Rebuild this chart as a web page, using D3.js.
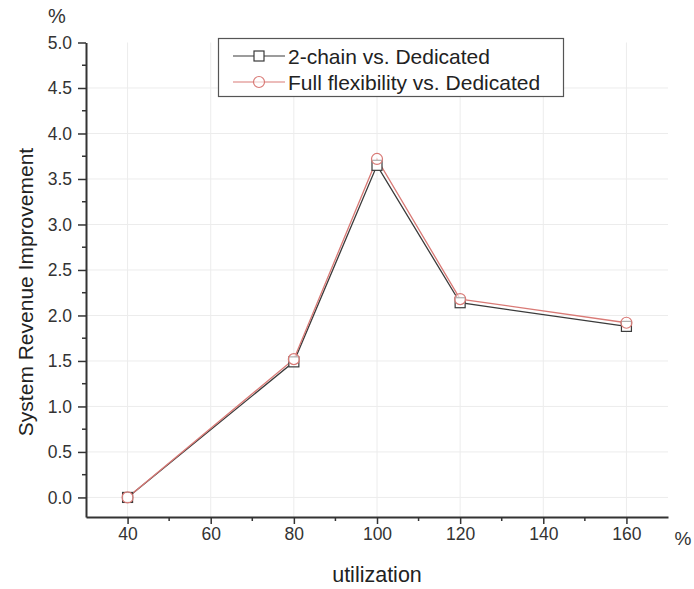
<!DOCTYPE html>
<html>
<head>
<meta charset="utf-8">
<script src="https://cdn.jsdelivr.net/npm/d3@7"></script>
<style>
  html, body { margin: 0; padding: 0; background: #fff; }
  svg { display: block; font-family: "Liberation Sans", Arial, sans-serif; }
</style>
</head>
<body>
<svg id="chart" width="694" height="589"></svg>
<script>
// Utilization levels (%) and revenue improvement (%) for each flexibility design
const utilization = [40, 80, 100, 120, 160];
const twoChain = [0, 1.49, 3.65, 2.14, 1.88];
const fullFlex = [0, 1.52, 3.72, 2.18, 1.92];
const seriesNames = ["2-chain vs. Dedicated", "Full flexibility vs. Dedicated"];
const xTicks = [40, 60, 80, 100, 120, 140, 160];
const yTicks = [0, 0.5, 1, 1.5, 2, 2.5, 3, 3.5, 4, 4.5, 5];

const svg = d3.select("#chart");
const axisColor = "#333";

const x = d3.scaleLinear().domain([30, 170]).range([86, 668]);
const y = d3.scaleLinear().domain([-0.215, 5]).range([517, 42.5]);

// light grid at the major ticks
const grid = svg.append("g").attr("stroke", "#ececec").attr("stroke-width", 1);
grid.selectAll("line.gx").data(xTicks).join("line")
  .attr("x1", d => x(d)).attr("x2", d => x(d))
  .attr("y1", y.range()[1]).attr("y2", y.range()[0]);
grid.selectAll("line.gy").data(yTicks.filter(d => d < 5)).join("line")
  .attr("x1", x.range()[0]).attr("x2", x.range()[1])
  .attr("y1", d => y(d)).attr("y2", d => y(d));

// minor ticks
const xMinor = d3.range(50, 170, 20);
const yMinor = d3.range(0.25, 5, 0.5);

const xAxisG = svg.append("g").attr("transform", `translate(0,${y.range()[0]})`)
  .call(d3.axisBottom(x).tickValues(xTicks).tickSize(7).tickSizeOuter(0).tickPadding(4));
xAxisG.append("g").selectAll("line").data(xMinor).join("line")
  .attr("x1", d => x(d)).attr("x2", d => x(d)).attr("y1", 0).attr("y2", 4)
  .attr("stroke", axisColor).attr("stroke-width", 1.5);

const yAxisG = svg.append("g").attr("transform", `translate(${x.range()[0]},0)`)
  .call(d3.axisLeft(y).tickValues(yTicks).tickFormat(d3.format(".1f")).tickSize(8).tickSizeOuter(0).tickPadding(6));
yAxisG.append("g").selectAll("line").data(yMinor).join("line")
  .attr("x1", 0).attr("x2", -4).attr("y1", d => y(d)).attr("y2", d => y(d))
  .attr("stroke", axisColor).attr("stroke-width", 1.5);

[xAxisG, yAxisG].forEach(g => {
  g.select(".domain").attr("stroke", axisColor).attr("stroke-width", 2);
  g.selectAll(".tick line").attr("stroke", axisColor).attr("stroke-width", 1.5);
  g.selectAll(".tick text").attr("fill", "#333").style("font-size", "17.5px")
    .style("font-family", "'Liberation Sans', Arial, sans-serif");
});

// unit and axis titles
svg.append("text").attr("x", 57).attr("y", 23).attr("text-anchor", "middle")
  .attr("fill", "#333").style("font-size", "20px").text("%");
svg.append("text").attr("x", 683).attr("y", 545).attr("text-anchor", "middle")
  .attr("fill", "#333").style("font-size", "19px").text("%");
svg.append("text").attr("x", 377).attr("y", 582).attr("text-anchor", "middle")
  .attr("fill", "#222").style("font-size", "21.5px").text("utilization");
svg.append("text").attr("transform", "translate(33,292) rotate(-90)").attr("text-anchor", "middle")
  .attr("fill", "#222").style("font-size", "21px").text("System Revenue Improvement");

// series
const series = [
  { name: seriesNames[0], values: twoChain, color: "#3a3a3a", shape: "square" },
  { name: seriesNames[1], values: fullFlex, color: "#d97a76", shape: "circle" }
];
const line = d3.line().x((d, i) => x(utilization[i])).y(d => y(d));

function drawMarker(g, shape, cx, cy, color) {
  if (shape === "square") {
    g.append("rect").attr("x", cx - 5).attr("y", cy - 5).attr("width", 10).attr("height", 10)
      .attr("fill", "#fff").attr("stroke", color).attr("stroke-width", 1.2);
  } else {
    g.append("circle").attr("cx", cx).attr("cy", cy).attr("r", 5.5)
      .attr("fill", "#fff").attr("fill-opacity", 0.6).attr("stroke", color).attr("stroke-width", 1.2);
  }
}

series.forEach(s => {
  svg.append("path").datum(s.values).attr("d", line)
    .attr("fill", "none").attr("stroke", s.color).attr("stroke-width", 1.3);
});
series.forEach(s => {
  const g = svg.append("g");
  s.values.forEach((v, i) => drawMarker(g, s.shape, x(utilization[i]), y(v), s.color));
});

// legend
const legend = svg.append("g");
legend.append("rect").attr("x", 218.5).attr("y", 38.5).attr("width", 345).attr("height", 58)
  .attr("fill", "#fff").attr("stroke", "#555").attr("stroke-width", 1.2);
series.forEach((s, i) => {
  const ly = 56 + i * 26;
  const g = legend.append("g");
  g.append("line").attr("x1", 233).attr("x2", 285).attr("y1", ly).attr("y2", ly)
    .attr("stroke", s.color).attr("stroke-width", 1.2);
  drawMarker(g, s.shape, 259, ly, s.color);
  g.append("text").attr("x", 288).attr("y", ly + 7.5).attr("fill", "#222")
    .style("font-size", "21px").text(s.name);
});
</script>
</body>
</html>
